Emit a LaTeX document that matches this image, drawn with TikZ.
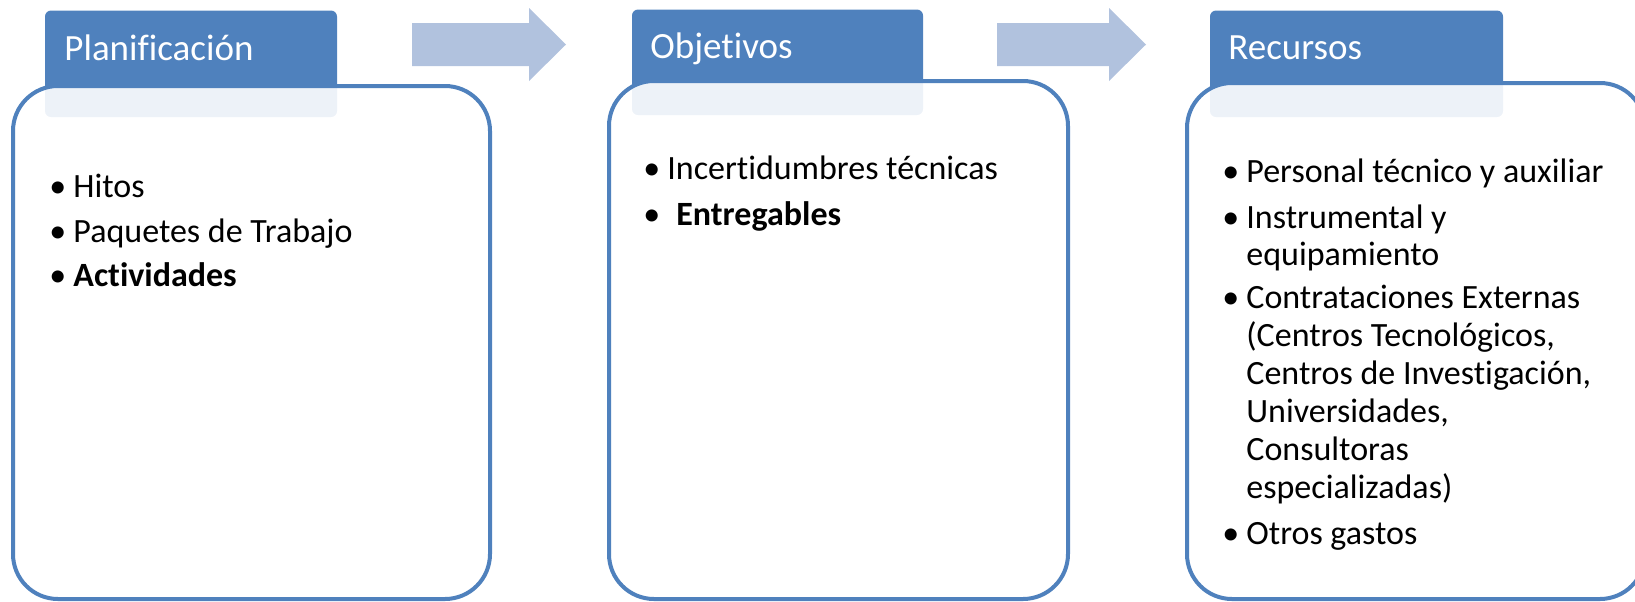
\documentclass[tikz,border=0pt]{standalone}
\usepackage{fontspec}
\setmainfont{Carlito}[Ligatures=NoCommon]
\definecolor{tabblue}{RGB}{79,129,189}
\definecolor{arrowblue}{RGB}{177,194,222}
\newcommand{\bul}{\llap{\textbullet\hspace{3.5pt}}}

\begin{document}
\begin{tikzpicture}[x=0.5pt, y=-0.5pt,
                tabbox/.style={fill=tabblue, rounded corners=3pt},
                panel/.style={draw=tabblue, line width=2pt, fill=white, fill opacity=0.9, rounded corners=22.5pt},
                blockarrow/.style={fill=arrowblue},
                title/.style={anchor=base west, inner sep=0pt, text=white, font=\fontsize{18.5}{22}\selectfont},
                item/.style={anchor=base west, inner sep=0pt, font=\fontsize{17}{19}\selectfont}]
                \useasboundingbox (0,0) rectangle (1635,601);
                \fill[tabblue, tabbox] (45,10.5) rectangle (337,117);
                \draw[panel] (13,86) rectangle (490,599);
                \node[title] (plan) at (64,60) {Planificación};
                \fill[blockarrow] (412,23) -- (529,23) -- (529,8) -- (566,44.5) -- (529,81) -- (529,66) -- (412,66) -- cycle;
                \fill[tabblue, tabbox] (632,9.5) rectangle (923,115);
                \draw[panel] (609,81) rectangle (1068,599);
                \node[title] (obj) at (650,58) {Objetivos};
                \fill[blockarrow] (997,23) -- (1109,23) -- (1109,8) -- (1146,44.5) -- (1109,81) -- (1109,66) -- (997,66) -- cycle;
                \fill[tabblue, tabbox] (1210,10.5) rectangle (1503,117);
                \draw[panel] (1187,83) rectangle (1645,599);
                \node[title] (rec) at (1228,59) {Recursos};
                \foreach \yy/\txt [count=\i] in {197/{\bul Hitos}, 242/{\bul Paquetes de Trabajo}, 286/{\bul\textbf{Actividades}}}
                    \node[item] (plan\i) at (73,\yy) {\txt};
                \foreach \yy/\txt [count=\i] in {179/{\bul Incertidumbres técnicas}, 225/{\bul\hspace{4.5pt}\textbf{Entregables}}}
                    \node[item] (obj\i) at (667,\yy) {\txt};
                \foreach \yy/\txt [count=\i] in {182/{\bul Personal técnico y auxiliar}, 228/{\bul Instrumental y}, 265/{equipamiento},
                    308/{\bul Contrataciones Externas}, 346/{(Centros Tecnológicos,}, 384/{Centros de Investigación,},
                    422/{Universidades,}, 460/{Consultoras}, 498/{especializadas)}, 544/{\bul Otros gastos}}
                    \node[item] (rec\i) at (1246,\yy) {\txt};
\end{tikzpicture}
\end{document}
